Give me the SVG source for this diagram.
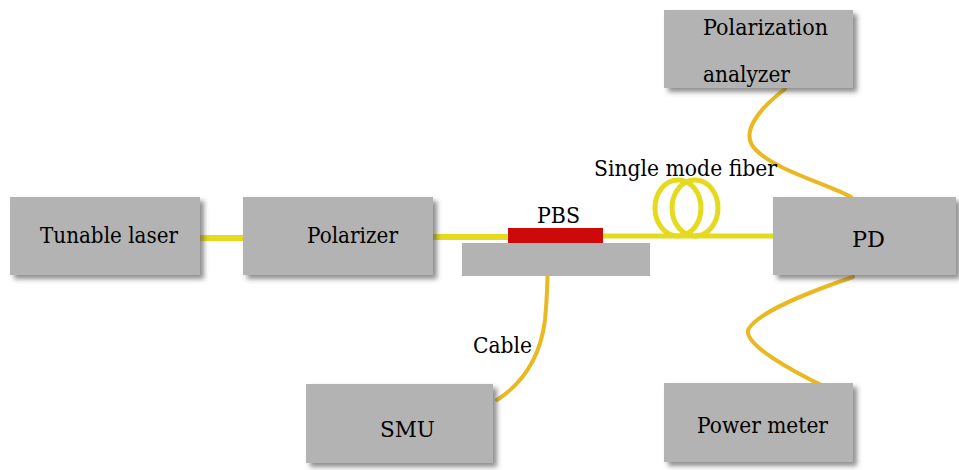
<svg xmlns="http://www.w3.org/2000/svg" width="959" height="470" viewBox="0 0 959 470">
<defs>
<filter id="sh" x="-10%" y="-10%" width="125%" height="130%">
<feDropShadow dx="4" dy="4" stdDeviation="2.5" flood-color="#444" flood-opacity="0.6"/>
</filter>
</defs>
<style>
.box{fill:#b3b3b3;filter:url(#sh)}
.fy{fill:none;stroke:#e6da1e;stroke-width:6}
.fo{fill:none;stroke:#eab820;stroke-width:4;stroke-linecap:round}
</style>
<rect width="959" height="470" fill="#fff"/>
<g id="connectors">
<line class="fy" x1="200" y1="238" x2="243" y2="238"/>
<line class="fy" x1="433" y1="237" x2="510" y2="237"/>
<line class="fy" x1="600" y1="236" x2="775" y2="236" style="stroke-width:5"/>
<ellipse class="fy" cx="678" cy="208" rx="23" ry="28" style="stroke-width:5"/>
<ellipse class="fy" cx="695" cy="208" rx="23" ry="28" style="stroke-width:5"/>
<path class="fo" d="M785,89 C755,112 740,135 756,150 C775,170 830,185 851,197"/>
<path class="fo" d="M853,277 C800,295 755,315 748,330 C745,345 790,370 825,387"/>
<path class="fo" d="M497,400 C520,385 540,360 545,320 C548,290 548,260 548,243"/>
</g>
<g font-family="DejaVu Serif, Liberation Serif, serif" font-size="23" fill="#000">
<g id="tunable-laser">
<rect class="box" x="10" y="197" width="190" height="78"/>
<text x="40" y="243" textLength="138" lengthAdjust="spacingAndGlyphs">Tunable laser</text>
</g>
<g id="polarizer">
<rect class="box" x="243" y="197" width="190" height="78"/>
<text x="307" y="243" textLength="91" lengthAdjust="spacingAndGlyphs">Polarizer</text>
</g>
<g id="pbs">
<rect x="462" y="243" width="188" height="33" fill="#b3b3b3"/>
<rect x="508" y="228" width="95" height="15" fill="#cc0a0a"/>
<text x="537" y="223" textLength="43" lengthAdjust="spacingAndGlyphs">PBS</text>
</g>
<g id="fiber-label">
<text x="594" y="176" textLength="183" lengthAdjust="spacingAndGlyphs">Single mode fiber</text>
</g>
<g id="pd">
<rect class="box" x="773" y="197" width="183" height="78"/>
<text x="852" y="247" textLength="33" lengthAdjust="spacingAndGlyphs">PD</text>
</g>
<g id="polarization-analyzer">
<rect class="box" x="664" y="10" width="189" height="78"/>
<text x="703" y="35" textLength="125" lengthAdjust="spacingAndGlyphs">Polarization</text>
<text x="703" y="82" textLength="87" lengthAdjust="spacingAndGlyphs">analyzer</text>
</g>
<g id="power-meter">
<rect class="box" x="664" y="383" width="189" height="79"/>
<text x="697" y="433" textLength="131" lengthAdjust="spacingAndGlyphs">Power meter</text>
</g>
<g id="smu">
<rect class="box" x="306" y="384" width="187" height="79"/>
<text x="380" y="437" textLength="55" lengthAdjust="spacingAndGlyphs">SMU</text>
</g>
<g id="cable-label">
<text x="473" y="353" textLength="59" lengthAdjust="spacingAndGlyphs">Cable</text>
</g>
</g>
</svg>
